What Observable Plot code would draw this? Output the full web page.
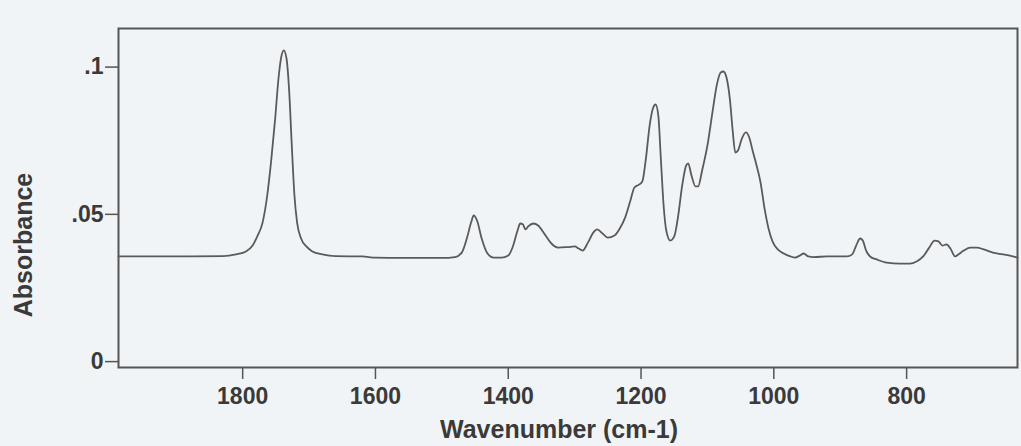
<!DOCTYPE html>
<html>
<head>
<meta charset="utf-8">
<script src="https://cdn.jsdelivr.net/npm/d3@7"></script>
<script src="https://cdn.jsdelivr.net/npm/@observablehq/plot@0.6"></script>
<style>
  html, body { margin: 0; padding: 0; background: #f1f4f6; }
</style>
</head>
<body>
<div id="chart"></div>
<script>
// Spectrum (wavenumber in cm-1, absorbance)
const wavenumber = [
  1987, 1900, 1830, 1810, 1795, 1785, 1778, 1770, 1763, 1757, 1751, 1746, 1742, 1738, 1734, 1730, 1726, 1722, 1718, 1712,
  1704, 1695, 1680, 1660, 1620, 1600, 1560, 1500, 1480, 1470, 1462, 1456, 1452, 1447, 1440, 1432, 1422, 1410, 1400, 1393,
  1386, 1382, 1378, 1374, 1370, 1362, 1355, 1345, 1335, 1325, 1310, 1300, 1294, 1288, 1280, 1272, 1266, 1258, 1250, 1240,
  1232, 1224, 1216, 1210, 1203, 1198, 1193, 1187, 1182, 1178, 1174, 1170, 1166, 1162, 1156, 1150, 1144, 1138, 1132, 1129,
  1124, 1118, 1114, 1108, 1100, 1092, 1086, 1080, 1076, 1071, 1066, 1062, 1058, 1054, 1048, 1042, 1037, 1032, 1026, 1020,
  1014, 1008, 1002, 994, 985, 975, 968, 961, 955, 948, 940, 920, 890, 882, 876, 870, 866, 861, 855, 845,
  830, 810, 795, 785, 775, 766, 758, 752, 746, 740, 734, 727, 722, 714, 704, 694, 684, 670, 655, 640, 633
];
const absorbance = [
  0.0357, 0.0357, 0.0358, 0.0364, 0.0374, 0.0394, 0.0425, 0.0472, 0.0564, 0.0683, 0.0826, 0.0962, 0.1033, 0.1057, 0.1030, 0.0921, 0.0734, 0.0564, 0.0472, 0.0418,
  0.0391, 0.0374, 0.0364, 0.0358, 0.0357, 0.0353, 0.0352, 0.0352, 0.0355, 0.0370, 0.0421, 0.0472, 0.0496, 0.0479, 0.0418, 0.0370, 0.0353, 0.0353, 0.0360, 0.0391,
  0.0445, 0.0469, 0.0466, 0.0449, 0.0459, 0.0469, 0.0462, 0.0432, 0.0401, 0.0387, 0.0389, 0.0391, 0.0384, 0.0377, 0.0404, 0.0438, 0.0449, 0.0435, 0.0421, 0.0428,
  0.0452, 0.0489, 0.0547, 0.0591, 0.0601, 0.0612, 0.0683, 0.0802, 0.0860, 0.0873, 0.0836, 0.0683, 0.0530, 0.0445, 0.0411, 0.0425, 0.0496, 0.0598, 0.0666, 0.0673,
  0.0632, 0.0595, 0.0595, 0.0649, 0.0734, 0.0853, 0.0938, 0.0982, 0.0985, 0.0962, 0.0887, 0.0785, 0.0710, 0.0717, 0.0758, 0.0778, 0.0761, 0.0717, 0.0666, 0.0608,
  0.0520, 0.0452, 0.0408, 0.0381, 0.0367, 0.0357, 0.0353, 0.0360, 0.0367, 0.0357, 0.0355, 0.0357, 0.0357, 0.0364, 0.0394, 0.0418, 0.0411, 0.0377, 0.0357, 0.0347,
  0.0336, 0.0333, 0.0333, 0.0340, 0.0357, 0.0387, 0.0411, 0.0408, 0.0394, 0.0398, 0.0384, 0.0357, 0.0364, 0.0377, 0.0387, 0.0387, 0.0381, 0.0370, 0.0364, 0.0357, 0.0353
];
const xTicks = [1800, 1600, 1400, 1200, 1000, 800];
const yTicks = [0, 0.05, 0.1];
const xTitle = "Wavenumber (cm-1)";
const yTitle = "Absorbance";

const data = wavenumber.map((w, i) => ({wn: w, abs: absorbance[i]}));
const fmtY = d => d === 0 ? "0" : String(d).replace(/^0/, "");
const fmtX = d => String(d);

const chart = Plot.plot({
  width: 1021,
  height: 446,
  marginLeft: 118,
  marginRight: 4,
  marginTop: 28,
  marginBottom: 79,
  style: {
    background: "#f1f4f6",
    fontFamily: "'Liberation Sans', Arial, sans-serif",
    fontWeight: "bold",
    fontSize: "23px",
    color: "#3a3a3a"
  },
  x: {domain: [1987, 633], axis: null},
  y: {domain: [-0.002, 0.1131], axis: null},
  marks: [
    Plot.axisX({ticks: xTicks, tickFormat: fmtX, tickSize: 12, tickPadding: 8, label: null, stroke: "#555", strokeWidth: 1.5, fill: "#3a3a3a", fontSize: 23}),
    Plot.axisY({ticks: yTicks, tickSize: 13, tickPadding: 2, tickFormat: fmtY, label: null, stroke: "#555", strokeWidth: 1.5, fill: "#3a3a3a", fontSize: 23}),
    Plot.frame({stroke: "#555", strokeWidth: 2}),
    Plot.line(data, {x: "wn", y: "abs", curve: "monotone-x", stroke: "#5a5a5a", strokeWidth: 1.8}),
    Plot.text([xTitle], {text: d => d, frameAnchor: "bottom", textAnchor: "middle", lineAnchor: "bottom", dy: 70, dx: -9, fontSize: 25, fontWeight: "bold", fill: "#3a3a3a"}),
    Plot.text([yTitle], {text: d => d, frameAnchor: "left", textAnchor: "middle", lineAnchor: "middle", rotate: -90, dx: -95, dy: 47, fontSize: 25, fontWeight: "bold", fill: "#3a3a3a"})
  ]
});
document.getElementById("chart").appendChild(chart);
</script>
</body>
</html>
